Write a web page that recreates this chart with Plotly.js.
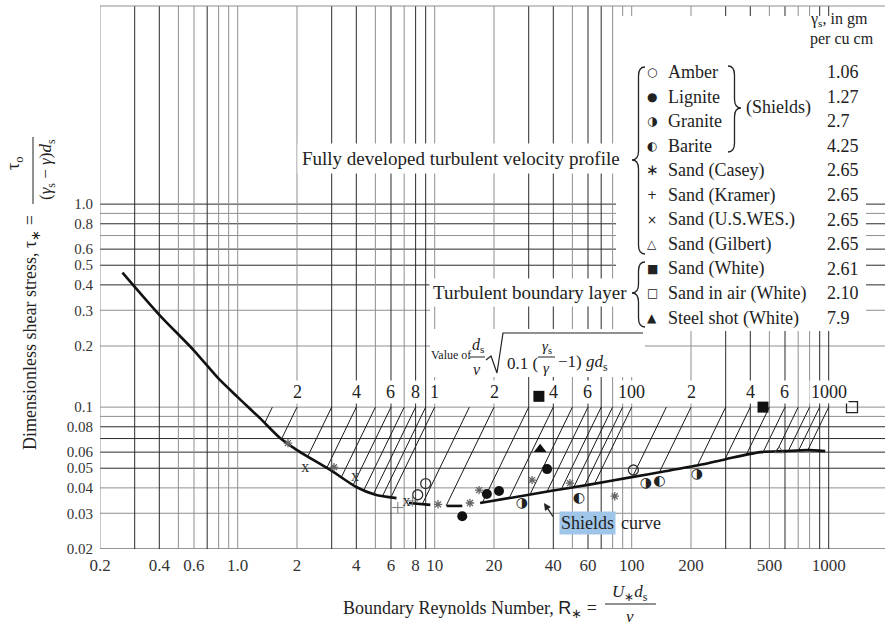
<!DOCTYPE html>
<html><head><meta charset="utf-8">
<script src="https://cdn.plot.ly/plotly-3.0.1.min.js"></script>
<style>html,body{margin:0;padding:0;background:#fff}#chart{width:885px;height:625px}</style>
</head><body><div id="chart"></div>
<script>
// ---------------- data ----------------
// Shields curve (null = interruption in the drawn curve)
const curveX = [0.26,0.4,0.6,0.8,1.0,1.3,1.64,2,3,4,5,6.4,null,7.4,9.5,null,11.5,13.8,null,17,25,40,60,100,150,220,300,450,600,780,960];
const curveY = [0.46,0.285,0.19,0.138,0.112,0.088,0.0704,0.0614,0.0485,0.0404,0.037,0.0356,null,0.0337,0.033,null,0.0326,0.0326,null,0.0337,0.0359,0.0388,0.0414,0.0452,0.0484,0.0518,0.0554,0.06,0.0607,0.0614,0.0607];

// values of ds/nu*sqrt(0.1(gs/g-1)g ds) for the hatch lines (reach tau=0.1 at R*=value)
const hatchV = [1.5,2,3,4,5,6,7,8,9,10,15,20,30,40,50,60,70,80,90,100,150,200,300,400,500,600,700,800,900,1000];
const topScaleV = [2,4,6,8,10,20,40,60,100,200,400,600,1000];
const topScaleText = ['2','4','6','8','1','2','4','6','100','2','4','6','1000'];

// experimental points
const amberX = [8.2,9.0,102],            amberY = [0.037,0.042,0.049];
const ligniteX = [13.8,18.4,21.2,37.2],   ligniteY = [0.029,0.0373,0.0386,0.0495];
const graniteX = [27.7,118,214],          graniteY = [0.0337,0.0422,0.0468];
const bariteX = [54,138],                 bariteY = [0.0356,0.0432];
const caseyX = [1.8,3.08,10.4,15.1,16.8,31.2,48.6,82], caseyY = [0.0665,0.0506,0.0332,0.0337,0.039,0.0437,0.0422,0.0364];
const kramerX = [6.5,7.7],                kramerY = [0.032,0.0345];
const wesX = [2.2,3.94,7.2],              wesY = [0.05,0.0452,0.034];
const gilbertX = [560],                   gilbertY = [0.061];
const whiteX = [33.8,464],                whiteY = [0.113,0.1];
const airX = [1313],                      airY = [0.1];
const steelX = [34.3],                    steelY = [0.062];

// legend table
const legendSymbols = ['○','●','◑','◐','∗','+','×','△','■','□','▲'];
const legendLabels = ['Amber','Lignite','Granite','Barite','Sand (Casey)','Sand (Kramer)','Sand (U.S.WES.)','Sand (Gilbert)','Sand (White)','Sand in air (White)','Steel shot (White)'];
const legendValues = ['1.06','1.27','2.7','4.25','2.65','2.65','2.65','2.65','2.61','2.10','7.9'];

// axes ticks
const xTickVals = [0.2,0.4,0.6,1,2,4,6,8,10,20,40,60,100,200,500,1000];
const xTickText = ['0.2','0.4','0.6','1.0','2','4','6','8','10','20','40','60','100','200','500','1000'];
const yTickVals = [0.02,0.03,0.04,0.05,0.06,0.08,0.1,0.2,0.3,0.4,0.5,0.6,0.8,1.0];
const yTickText = ['0.02','0.03','0.04','0.05','0.06','0.08','0.1','0.2','0.3','0.4','0.5','0.6','0.8','1.0'];
const xGridDark = [0.3,0.4,0.7,3,4,6,8,9,30,40,60,70,300,400,600,900,1000];
const yGridDark = [0.02,0.05,0.06,0.07,0.08,0.4,0.5,0.6,0.8,1.0];

// ---------------- helpers ----------------
const SERIF = '"Liberation Serif","Times New Roman",serif';
const SYM = '"DejaVu Sans",sans-serif';
const INK = '#222';
const L0 = 100, T0 = 6, PW = 785, PH = 543;
const px = x => (x - L0) / PW, py = y => (T0 + PH - y) / PH;
const P = (x, y) => px(x).toFixed(5) + ',' + py(y).toFixed(5);
function note(text, x, y, o) {
  return Object.assign({xref:'paper', yref:'paper', x:px(x), y:py(y), text:text, showarrow:false,
    xanchor:'center', yanchor:'middle', font:{family:SERIF, size:18, color:INK}}, o || {});
}
function pline(x0, y0, x1, y1, w, c) {
  return {type:'line', xref:'paper', yref:'paper', x0:px(x0), y0:py(y0), x1:px(x1), y1:py(y1),
    line:{color:c || INK, width:w || 1}, layer:'above'};
}
function prect(x0, y0, x1, y1) {
  return {type:'rect', xref:'paper', yref:'paper', x0:px(x0), y0:py(y0), x1:px(x1), y1:py(y1),
    fillcolor:'#fff', line:{width:0}, layer:'below'};
}
function brace(xt, xb, yt, ym, yb) {
  const xm = (xt + xb) / 2, r = Math.min(9, (yb - yt) / 6);
  return {type:'path', xref:'paper', yref:'paper', layer:'above', line:{color:INK, width:1.3},
    path:'M' + P(xb, yt) + ' Q' + P(xm, yt) + ' ' + P(xm, yt + r) + ' L' + P(xm, ym - r) +
      ' Q' + P(xm, ym) + ' ' + P(xt, ym) + ' Q' + P(xm, ym) + ' ' + P(xm, ym + r) +
      ' L' + P(xm, yb - r) + ' Q' + P(xm, yb) + ' ' + P(xb, yb)};
}

// ---------------- hatch lines: from (V,0.1) down to the curve ----------------
const cLx = [], cLy = [];
curveX.forEach((x, i) => { if (x != null) { cLx.push(Math.log10(x)); cLy.push(Math.log10(curveY[i])); } });
function curveAt(L) {
  if (L <= cLx[0]) return cLy[0];
  if (L >= cLx[cLx.length - 1]) return cLy[cLy.length - 1];
  for (let i = 1; i < cLx.length; i++) {
    if (L <= cLx[i]) { const t = (L - cLx[i-1]) / (cLx[i] - cLx[i-1]); return cLy[i-1] + t * (cLy[i] - cLy[i-1]); }
  }
}
const hx = [], hy = [];
hatchV.forEach(V => {
  const lv = Math.log10(V);
  const f = L => curveAt(L) - (-1 + 2 * (L - lv));
  let lo = lv - 1.5, hi = lv;
  for (let k = 0; k < 60; k++) { const m = (lo + hi) / 2; if (f(m) > 0) lo = m; else hi = m; }
  const Lm = (lo + hi) / 2;
  hx.push(V, Math.pow(10, Lm), null);
  hy.push(0.1, Math.pow(10, -1 + 2 * (Lm - lv)), null);
});

// ---------------- traces ----------------
const traces = [
  {x:hx, y:hy, mode:'lines', line:{color:'#1a1a1a', width:1}, hoverinfo:'skip'},
  {x:curveX, y:curveY, mode:'lines', connectgaps:false, line:{color:'#111', width:2.6, shape:'spline', smoothing:0.7}},
  {x:amberX, y:amberY, mode:'markers', marker:{symbol:'circle-open', size:10, color:'#333', line:{width:1.3}}},
  {x:ligniteX, y:ligniteY, mode:'markers', marker:{symbol:'circle', size:10, color:'#111'}},
  {x:graniteX, y:graniteY, mode:'text', text:graniteX.map(() => '◑'), textfont:{family:SYM, size:14, color:'#222'}},
  {x:bariteX, y:bariteY, mode:'text', text:bariteX.map(() => '◐'), textfont:{family:SYM, size:14, color:'#222'}},
  {x:caseyX, y:caseyY, mode:'markers', marker:{symbol:'asterisk-open', size:7, color:'#666', line:{color:'#666', width:1.3}}},
  {x:kramerX, y:kramerY, mode:'markers', marker:{symbol:'cross-thin-open', size:8, color:'#777', line:{color:'#777', width:1}}},
  {x:wesX, y:wesY, mode:'text', text:wesX.map(() => 'x'), textfont:{family:SERIF, size:16, color:'#333'}},
  {x:gilbertX, y:gilbertY, mode:'markers', marker:{symbol:'triangle-up-open', size:8, color:'#555', line:{color:'#555', width:1}}},
  {x:whiteX, y:whiteY, mode:'markers', marker:{symbol:'square', size:11, color:'#111'}},
  {x:airX, y:airY, mode:'markers', marker:{symbol:'square-open', size:11, color:'#222', line:{color:'#222', width:1.3}}},
  {x:steelX, y:steelY, mode:'markers', marker:{symbol:'triangle-up', size:11, color:'#111'}}
];

// ---------------- grid & boxes ----------------
const shapes = [];
const xGrid = [], yGrid = [];
[0.1,1,10,100,1000].forEach(d => { for (let k = 1; k <= 9; k++) { const v = +(k*d).toPrecision(3); if (v >= 0.2 && v <= 2000) xGrid.push(v); } });
[0.01,0.1].forEach(d => { for (let k = 1; k <= 9; k++) { const v = +(k*d).toPrecision(3); if (v >= 0.02) yGrid.push(v); } });
yGrid.push(1.0);
yGrid.forEach(v => shapes.push({type:'line', xref:'paper', yref:'y', x0:0, x1:1, y0:v, y1:v, layer:'below',
  line:{color: yGridDark.includes(v) ? '#2a2a2a' : '#8f8f8f', width:1}}));
shapes.push(prect(430, 271, 630, 330));
xGrid.forEach(v => shapes.push({type:'line', xref:'x', yref:'paper', x0:v, x1:v, y0:0, y1:1, layer:'below',
  line:{color: xGridDark.includes(v) ? '#2a2a2a' : '#8f8f8f', width:1}}));
shapes.push(prect(430, 329, 645, 377));
shapes.push(prect(616, 16, 866, 331));
shapes.push({type:'line', xref:'paper', yref:'paper', x0:0, x1:1, y0:1, y1:1, layer:'below', line:{color:'#8f8f8f', width:1}});

// braces
shapes.push(brace(632, 645, 67, 160, 254));
shapes.push(brace(632, 645, 262, 293, 327));
shapes.push(brace(741, 728, 66, 108, 152));

// formula lines
shapes.push(pline(470, 357, 485, 357, 1));
shapes.push({type:'path', xref:'paper', yref:'paper', layer:'above', line:{color:INK, width:1.2},
  path:'M' + P(486, 360) + ' L' + P(491, 356) + ' L' + P(497, 373) + ' L' + P(503, 333) + ' L' + P(643, 333)});
shapes.push(pline(538, 357, 555, 357, 1));
// axis-title fraction lines
shapes.push(pline(605, 604, 656, 604, 1));
shapes.push(pline(33, 137, 33, 204, 1));

// ---------------- annotations ----------------
const ann = [];
ann.push(note('Fully developed turbulent velocity profile', 461, 159, {bgcolor:'#fff', borderpad:4, font:{family:SERIF, size:19, color:INK}}));
ann.push(note('Turbulent boundary layer', 530, 292, {bgcolor:'#fff', borderpad:3, font:{family:SERIF, size:19, color:INK}}));
ann.push(note('(Shields)', 778, 108));
ann.push(note('γ<sub>s</sub>, in gm', 808, 19, {xanchor:'left', font:{family:SERIF, size:16, color:INK}}));
ann.push(note('per cu cm', 808, 39, {xanchor:'left', font:{family:SERIF, size:16, color:INK}}));
legendLabels.forEach((lab, i) => {
  const y = 72 + i * 24.6;
  ann.push(note(legendSymbols[i], 652, y, {font:{family:SYM, size: i === 4 ? 15 : 12, color:INK}}));
  ann.push(note(lab, 666, y, {xanchor:'left'}));
  ann.push(note(legendValues[i], 825, y, {xanchor:'left'}));
});
topScaleV.forEach((v, i) => ann.push({xref:'x', yref:'y', x:Math.log10(v), y:Math.log10(0.1185), text:topScaleText[i],
  showarrow:false, bgcolor:'#fff', borderpad:1, font:{family:SERIF, size:18, color:INK}}));
// formula
ann.push(note('Value of', 451, 355, {font:{family:SERIF, size:12, color:INK}}));
ann.push(note('<i>d</i><sub>s</sub>', 478, 345, {font:{family:SERIF, size:16, color:INK}}));
ann.push(note('<i>ν</i>', 477, 369, {font:{family:SERIF, size:16, color:INK}}));
ann.push(note('0.1 (', 505, 363, {xanchor:'left', font:{family:SERIF, size:17, color:INK}}));
ann.push(note('<i>γ</i><sub>s</sub>', 547, 347, {font:{family:SERIF, size:15, color:INK}}));
ann.push(note('<i>γ</i>', 546, 368, {font:{family:SERIF, size:15, color:INK}}));
ann.push(note('−1) <i>gd</i><sub>s</sub>', 556, 363, {xanchor:'left', font:{family:SERIF, size:17, color:INK}}));
// Shields curve call-out
ann.push(note('Shields', 587, 523, {bgcolor:'#9fc5e8', borderpad:1}));
ann.push(note('curve', 619, 523, {xanchor:'left'}));
ann.push({xref:'paper', yref:'paper', x:px(544), y:py(503), ax:12, ay:18, text:' ', showarrow:true,
  arrowhead:2, arrowsize:1.1, arrowwidth:1.3, arrowcolor:INK});
// axis titles
ann.push(note('Boundary Reynolds Number, <span style="font-family:Liberation Sans">R</span><sub>∗</sub> =', 470, 609));
ann.push(note('<i>U</i><sub>∗</sub><i>d</i><sub>s</sub>', 630, 593, {font:{family:SERIF, size:17, color:INK}}));
ann.push(note('<i>ν</i>', 630, 616, {font:{family:SERIF, size:17, color:INK}}));
ann.push(note('Dimensionless shear stress, τ<sub>∗</sub> =', 31, 333, {textangle:-90}));
ann.push(note('τ<sub>o</sub>', 14, 163, {textangle:-90}));
ann.push(note('(<i>γ</i><sub>s</sub> − <i>γ</i>)<i>d</i><sub>s</sub>', 47, 170, {textangle:-90, font:{family:SERIF, size:17, color:INK}}));

const layout = {
  width:885, height:625, margin:{l:L0, r:0, t:T0, b:625 - T0 - PH, pad:0},
  paper_bgcolor:'#fff', plot_bgcolor:'#fff', showlegend:false,
  xaxis:{type:'log', range:[Math.log10(0.2), Math.log10(0.2) + PW/197], showgrid:false, zeroline:false, showline:false,
    tickmode:'array', tickvals:xTickVals, ticktext:xTickText, ticks:'', ticklabelstandoff:4,
    tickfont:{family:SERIF, size:17, color:'#333'}},
  yaxis:{type:'log', range:[Math.log10(0.02), Math.log10(0.02) + PH/203], showgrid:false, zeroline:false, showline:false,
    tickmode:'array', tickvals:yTickVals, ticktext:yTickText, ticks:'', ticklabelstandoff:6,
    tickfont:{family:SERIF, size:15, color:'#333'}},
  shapes:shapes, annotations:ann
};
Plotly.newPlot('chart', traces, layout, {displayModeBar:false, staticPlot:true});
</script></body></html>
